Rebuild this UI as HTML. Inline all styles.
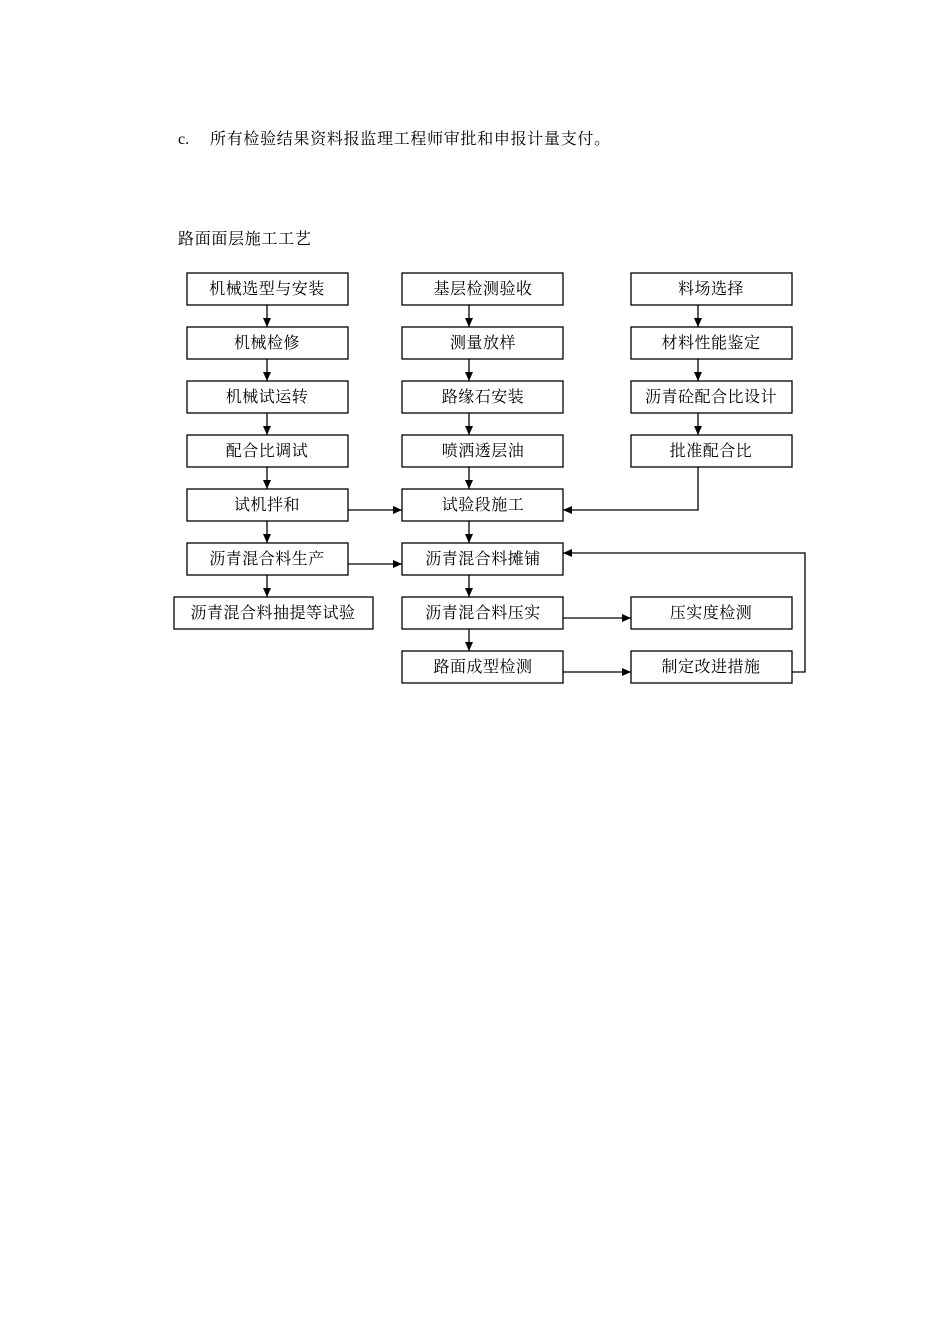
<!DOCTYPE html>
<html><head><meta charset="utf-8"><style>
body{margin:0;background:#fff;width:950px;height:1344px;position:relative;font-family:"Liberation Serif","Noto Serif CJK SC","Noto Sans CJK SC",serif;}
.t{position:absolute;font-size:16px;color:#000;white-space:nowrap}
</style></head><body>
<div class="t" style="left:178px;top:126px"><span style="display:inline-block;width:32px">c.</span><span style="letter-spacing:0.7px">所有检验结果资料报监理工程师审批和申报计量支付。</span></div>
<div class="t" style="left:178px;top:226px;letter-spacing:0.7px">路面面层施工工艺</div>
<svg width="950" height="1344" style="position:absolute;left:0;top:0" font-family="Liberation Serif, Noto Serif CJK SC, serif" font-size="16">
<defs><marker id="a" markerWidth="10" markerHeight="10" refX="9" refY="5" orient="auto" markerUnits="userSpaceOnUse"><path d="M0,1 L9,5 L0,9 z" fill="#000"/></marker></defs>
<g fill="#fff" stroke="#000" stroke-width="1.3">
<rect x="187" y="273" width="161" height="32"/><rect x="187" y="327" width="161" height="32"/><rect x="187" y="381" width="161" height="32"/><rect x="187" y="435" width="161" height="32"/><rect x="187" y="489" width="161" height="32"/><rect x="187" y="543" width="161" height="32"/><rect x="174" y="597" width="199" height="32"/>
<rect x="402" y="273" width="161" height="32"/><rect x="402" y="327" width="161" height="32"/><rect x="402" y="381" width="161" height="32"/><rect x="402" y="435" width="161" height="32"/><rect x="402" y="489" width="161" height="32"/><rect x="402" y="543" width="161" height="32"/><rect x="402" y="597" width="161" height="32"/><rect x="402" y="651" width="161" height="32"/>
<rect x="631" y="273" width="161" height="32"/><rect x="631" y="327" width="161" height="32"/><rect x="631" y="381" width="161" height="32"/><rect x="631" y="435" width="161" height="32"/><rect x="631" y="597" width="161" height="32"/><rect x="631" y="651" width="161" height="32"/>
</g>
<g stroke="#000" stroke-width="1.3" fill="none" marker-end="url(#a)">
<line x1="267" y1="305" x2="267" y2="327"/><line x1="267" y1="359" x2="267" y2="381"/><line x1="267" y1="413" x2="267" y2="435"/><line x1="267" y1="467" x2="267" y2="489"/><line x1="267" y1="521" x2="267" y2="543"/><line x1="267" y1="575" x2="267" y2="597"/>
<line x1="469" y1="305" x2="469" y2="327"/><line x1="469" y1="359" x2="469" y2="381"/><line x1="469" y1="413" x2="469" y2="435"/><line x1="469" y1="467" x2="469" y2="489"/><line x1="469" y1="521" x2="469" y2="543"/><line x1="469" y1="575" x2="469" y2="597"/><line x1="469" y1="629" x2="469" y2="651"/>
<line x1="698" y1="305" x2="698" y2="327"/><line x1="698" y1="359" x2="698" y2="381"/><line x1="698" y1="413" x2="698" y2="435"/>
<line x1="348" y1="510" x2="402" y2="510"/><line x1="348" y1="564" x2="402" y2="564"/>
<line x1="563" y1="618" x2="631" y2="618"/><line x1="563" y1="672" x2="631" y2="672"/>
<polyline points="698,467 698,510 563,510"/>
<polyline points="792,672 805,672 805,553 563,553"/>
</g>
<g text-anchor="middle" fill="#000" letter-spacing="0.5">
<text x="267" y="294">机械选型与安装</text><text x="267" y="348">机械检修</text><text x="267" y="402">机械试运转</text><text x="267" y="456">配合比调试</text><text x="267" y="510">试机拌和</text><text x="267" y="564">沥青混合料生产</text><text x="273" y="618">沥青混合料抽提等试验</text>
<text x="483" y="294">基层检测验收</text><text x="483" y="348">测量放样</text><text x="483" y="402">路缘石安装</text><text x="483" y="456">喷洒透层油</text><text x="483" y="510">试验段施工</text><text x="483" y="564">沥青混合料摊铺</text><text x="483" y="618">沥青混合料压实</text><text x="483" y="672">路面成型检测</text>
<text x="711" y="294">料场选择</text><text x="711" y="348">材料性能鉴定</text><text x="711" y="402">沥青砼配合比设计</text><text x="711" y="456">批准配合比</text><text x="711" y="618">压实度检测</text><text x="711" y="672">制定改进措施</text>
</g>
</svg>
</body></html>
